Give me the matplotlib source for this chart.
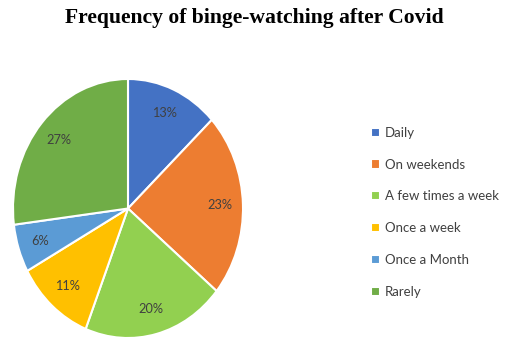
import matplotlib.pyplot as plt

labels = ['Daily', 'On weekends', 'A few times a week', 'Once a week', 'Once a Month', 'Rarely']
shares = [13, 23, 20, 11, 6, 27]
colors = ['#4472C4', '#ED7D31', '#92D050', '#FFC000', '#5B9BD5', '#70AD47']

fig = plt.figure(figsize=(5.05, 3.48), dpi=100)
ax = fig.add_axes([13 / 505, 10 / 348, 230 / 505, 259 / 348])

wedges, texts, autotexts = ax.pie(
    shares, colors=colors, startangle=90, counterclock=False,
    autopct='%d%%', pctdistance=0.8,
    wedgeprops=dict(edgecolor='white', linewidth=1.5),
    textprops=dict(color='#404040', fontsize=9.2, family='Lato'))
ax.set_aspect('auto')
ax.set_xlim(-1, 1)
ax.set_ylim(-1, 1)

fig.text(0.503, 0.947, 'Frequency of binge-watching after Covid', ha='center', va='center',
         fontsize=15.6, fontweight='bold', family='Liberation Serif')

leg = fig.legend(wedges, labels, loc='upper left', bbox_to_anchor=(359 / 505, 1 - 115 / 348),
                 frameon=False, handlelength=0.7, handleheight=0.7, handletextpad=0.35,
                 labelspacing=1.5, prop=dict(family='Lato', size=9.5))
for t in leg.get_texts():
    t.set_color('#404040')

fig.savefig('out.png', dpi=100)
